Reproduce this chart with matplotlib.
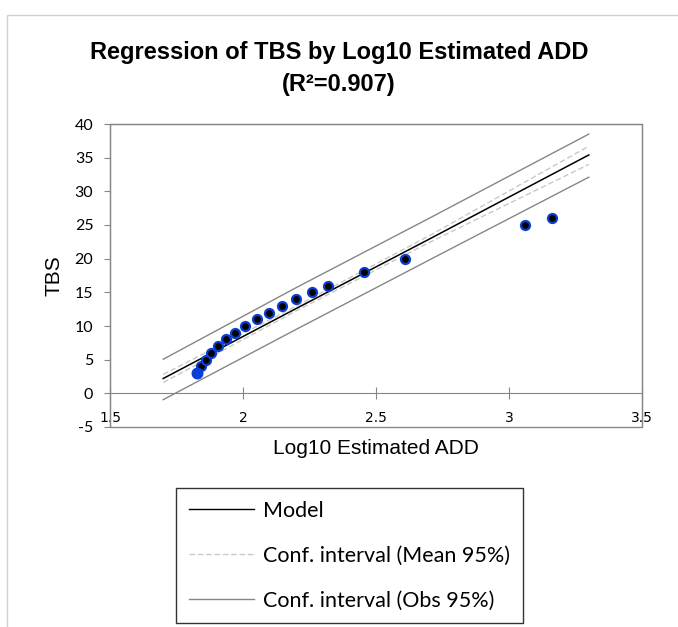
import matplotlib
matplotlib.use("Agg")
import matplotlib.pyplot as plt
from matplotlib.patches import Rectangle
from matplotlib.lines import Line2D

log_add = [1.826, 1.841, 1.860, 1.880, 1.906, 1.936, 1.971, 2.009, 2.051, 2.097,
           2.145, 2.200, 2.259, 2.321, 2.456, 2.609, 3.060, 3.162]
tbs = [3, 4, 5, 6, 7, 8, 9, 10, 11, 12, 13, 14, 15, 16, 18, 20, 25, 26]

# fitted line and confidence bands, sampled along x
line_x = [1.7, 2.2, 2.7, 3.3]
model_y = [2.2, 12.6, 22.9, 35.4]
mean_lo = [1.6, 12.25, 22.4, 34.0]
mean_hi = [2.8, 12.95, 23.4, 36.7]
obs_lo = [-0.94, 9.5, 19.8, 32.1]
obs_hi = [5.06, 15.7, 26.0, 38.5]

x_ticks = [1.5, 2, 2.5, 3, 3.5]
y_ticks = [-5, 0, 5, 10, 15, 20, 25, 30, 35, 40]

grey = '#868686'
tick_font = 'Lato'

fig = plt.figure(figsize=(6.78, 6.27), dpi=100)
fig.patches.append(Rectangle((7 / 678, -0.1), 1.1, 1 - 15 / 627 + 0.1,
                             transform=fig.transFigure, fill=False,
                             ec='#d0d0d0', lw=1))

ax = fig.add_axes([110 / 678, 1 - 427 / 627, 532 / 678, 303 / 627])

ax.plot(line_x, obs_hi, color=grey, lw=1)
ax.plot(line_x, obs_lo, color=grey, lw=1)
ax.plot(line_x, mean_hi, color='#c8c8c8', lw=1, ls=(0, (4, 2)))
ax.plot(line_x, mean_lo, color='#c8c8c8', lw=1, ls=(0, (4, 2)))
ax.plot(line_x, model_y, color='black', lw=1.1)

ax.scatter(log_add[1:], tbs[1:], s=42, c='black', edgecolors='#0a3fd6',
           linewidths=1.6, zorder=5)
ax.scatter(log_add[:1], tbs[:1], s=55, c='#0a3fd6', edgecolors='#0a3fd6',
           linewidths=1.2, zorder=5)

ax.set_xlim(1.5, 3.5)
ax.set_ylim(-5, 40)
ax.set_xticks(x_ticks)
ax.set_xticklabels([f'{v:g}' for v in x_ticks], fontfamily=tick_font, fontsize=11.5)
ax.set_yticks(y_ticks)
ax.set_yticklabels([f'{v:g}' for v in y_ticks], fontfamily=tick_font, fontsize=11.5)

for s in ['top', 'right']:
    ax.spines[s].set_color(grey)
ax.spines['left'].set_color(grey)
ax.spines['bottom'].set_position(('data', 0))
ax.spines['bottom'].set_color(grey)
ax.add_patch(Rectangle((0, 0), 1, 1, transform=ax.transAxes, fill=False,
                       ec=grey, lw=1, clip_on=False, zorder=6))
ax.tick_params(axis='x', direction='inout', length=8, color=grey, pad=9)
ax.tick_params(axis='y', direction='out', length=4, color=grey, pad=8)

ax.set_ylabel('TBS', fontfamily='Liberation Sans', fontsize=15, labelpad=8)
ax.set_xlabel('Log10 Estimated ADD', fontfamily='Liberation Sans', fontsize=15,
              labelpad=10)

fig.text(0.5, 1 - 53 / 627, 'Regression of TBS by Log10 Estimated ADD',
         ha='center', va='center', fontfamily='Liberation Sans',
         fontweight='bold', fontsize=17)
fig.text(0.5, 1 - 85 / 627, '(R²=0.907)', ha='center', va='center',
         fontfamily='Liberation Sans', fontweight='bold', fontsize=17)

handles = [Line2D([], [], color='black', lw=1),
           Line2D([], [], color='#c8c8c8', lw=1, ls=(0, (4, 2))),
           Line2D([], [], color=grey, lw=1)]
labels = ['Model', 'Conf. interval (Mean 95%)', 'Conf. interval (Obs 95%)']
leg = fig.legend(handles, labels, loc='upper left',
                 bbox_to_anchor=(176 / 678, 1 - 488 / 627),
                 prop={'family': tick_font, 'size': 15.5}, frameon=True,
                 fancybox=False, edgecolor='black', borderaxespad=0,
                 handlelength=3.0, handletextpad=0.45, labelspacing=1.15,
                 borderpad=0.6)
leg.get_frame().set_linewidth(1)

fig.savefig('out.png', dpi=100)
